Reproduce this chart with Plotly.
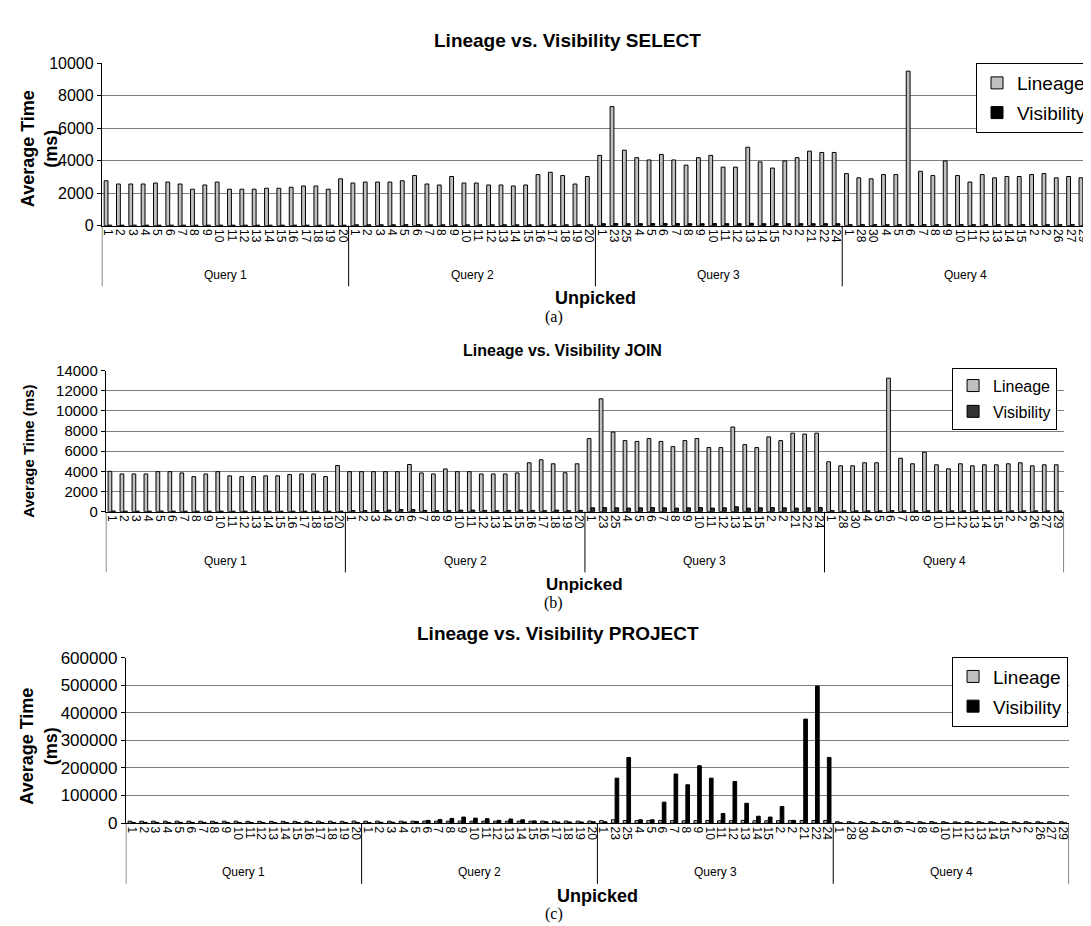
import plotly.graph_objects as go

W, H = 1091, 926
FONT = "Liberation Sans"
SERIF = "Liberation Serif"

query_names = ["Query 1", "Query 2", "Query 3", "Query 4"]
q1_ticks = [str(i) for i in range(1, 21)]
q2_ticks = [str(i) for i in range(1, 21)]
q3_ticks = ["1", "23", "25", "4", "5", "6", "7", "8", "9", "10", "11", "12", "13", "14", "15", "2", "2", "21", "22", "24"]
q4_ticks = ["1", "28", "30", "4", "5", "6", "7", "8", "9", "10", "11", "12", "13", "14", "15", "2", "2", "26", "27", "29"]
tick_labels = q1_ticks + q2_ticks + q3_ticks + q4_ticks

select_lineage = [2760, 2560, 2560, 2560, 2620, 2680, 2560, 2240, 2500, 2680,
                  2240, 2240, 2240, 2300, 2300, 2360, 2440, 2440, 2240, 2880,
                  2620, 2680, 2680, 2680, 2760, 3080, 2560, 2500, 3020, 2620,
                  2620, 2500, 2500, 2440, 2500, 3140, 3280, 3080, 2560, 3020,
                  4320, 7320, 4640, 4180, 4040, 4380, 4040, 3720, 4180, 4320,
                  3600, 3600, 4820, 3920, 3540, 3980, 4180, 4580, 4500, 4500,
                  3200, 2940, 2880, 3140, 3140, 9500, 3340, 3080, 3980, 3080,
                  2680, 3140, 2940, 3020, 3020, 3140, 3200, 2940, 3020, 2940]
select_visibility = [30, 30, 30, 30, 30, 30, 30, 30, 30, 30,
                     30, 30, 30, 30, 30, 30, 30, 30, 30, 30,
                     50, 50, 50, 50, 60, 60, 50, 50, 50, 50,
                     50, 50, 50, 50, 50, 50, 50, 50, 50, 50,
                     120, 130, 120, 120, 130, 130, 130, 120, 120, 130,
                     120, 120, 140, 120, 120, 120, 120, 120, 120, 120,
                     60, 60, 60, 60, 60, 60, 60, 60, 60, 60,
                     60, 60, 60, 60, 60, 60, 60, 60, 60, 60]

join_lineage = [4000, 3740, 3740, 3740, 3970, 3970, 3840, 3480, 3740, 3970,
                3550, 3480, 3480, 3550, 3550, 3680, 3740, 3740, 3480, 4580,
                3970, 3970, 3970, 3970, 3970, 4680, 3840, 3740, 4240, 3970,
                3970, 3740, 3740, 3740, 3840, 4850, 5150, 4750, 3860, 4750,
                7250, 11200, 7900, 7050, 6970, 7250, 6970, 6450, 7050, 7250,
                6360, 6360, 8400, 6650, 6360, 7420, 7050, 7790, 7700, 7790,
                4950, 4550, 4550, 4850, 4850, 13250, 5300, 4750, 5900, 4650,
                4250, 4750, 4550, 4650, 4650, 4750, 4850, 4550, 4650, 4650]
join_visibility = [60, 50, 50, 50, 60, 60, 50, 50, 50, 60,
                   50, 50, 50, 50, 50, 50, 50, 50, 50, 60,
                   100, 100, 100, 150, 200, 200, 120, 100, 100, 150,
                   150, 120, 100, 120, 150, 120, 100, 150, 100, 120,
                   380, 400, 380, 350, 380, 400, 380, 350, 380, 400,
                   350, 380, 480, 350, 380, 400, 380, 350, 380, 400,
                   100, 80, 80, 80, 80, 100, 80, 80, 80, 80,
                   80, 80, 80, 80, 80, 80, 80, 80, 80, 80]

project_lineage = [7000, 7000, 7000, 7000, 7000, 7000, 7000, 7000, 7000, 7000,
                   6500, 6500, 6500, 6500, 6500, 6500, 7000, 7000, 6500, 7500,
                   7000, 7000, 7000, 7000, 7000, 7500, 7000, 7000, 7500, 7000,
                   7000, 7000, 7000, 7000, 7000, 7500, 7500, 7500, 7000, 7500,
                   9000, 12000, 9500, 9000, 9000, 9500, 9000, 8500, 9000, 9500,
                   8500, 8500, 10000, 8500, 8500, 9000, 9000, 9500, 9500, 9500,
                   5000, 5000, 5000, 5000, 5000, 8000, 5000, 5000, 5500, 5000,
                   4500, 5000, 5000, 5000, 5000, 5000, 5000, 5000, 5000, 5000]
project_visibility = [2500, 2500, 2500, 2500, 2500, 2500, 2500, 2500, 2500, 2500,
                      2000, 2000, 2000, 2000, 2000, 2000, 2000, 2000, 2000, 2500,
                      2000, 3000, 3000, 4000, 6000, 10000, 13000, 17000, 22000, 18000,
                      16000, 10000, 15000, 12000, 8000, 5000, 4000, 4000, 4000, 5000,
                      5000, 163000, 238000, 12000, 12000, 76000, 178000, 139000, 208000, 163000,
                      35000, 151000, 72000, 25000, 22000, 60000, 10000, 377000, 497000, 238000,
                      800, 800, 800, 800, 800, 800, 800, 800, 800, 800,
                      800, 800, 800, 800, 800, 800, 800, 800, 800, 800]

idx = list(range(len(tick_labels)))
n = len(tick_labels)
gsize = n // len(query_names)


def X(px):
    return px / W


def Y(py):
    return 1 - py / H


panels = [
    dict(name="a", title="Lineage vs. Visibility SELECT", lin=select_lineage, vis=select_visibility,
         vis_color="#000000", x0=93, x1=1082, top=47, bot=213, ymax=10000, dtick=2000,
         title_x=560, title_y=24, title_size=19, ytick_size=16, ytitle="Average Time<br>(ms)",
         ytitle_size=18, ytitle_x=30, ytitle_y=134, tick_len=27, unp_size=18,
         leg=dict(x=1085, y=47, size=19)),
    dict(name="b", title="Lineage vs. Visibility JOIN", lin=join_lineage, vis=join_visibility,
         vis_color="#333333", x0=97, x1=1057, top=361, bot=505, ymax=14000, dtick=2000,
         title_x=555, title_y=340, title_size=16, ytick_size=15, ytitle="Average Time (ms)",
         ytitle_size=15, ytitle_x=20, ytitle_y=443, tick_len=26, unp_size=17,
         leg=dict(x=1050, y=358, size=16)),
    dict(name="c", title="Lineage vs. Visibility PROJECT", lin=project_lineage, vis=project_visibility,
         vis_color="#000000", x0=117, x1=1062, top=654, bot=823, ymax=600000, dtick=100000,
         title_x=550, title_y=629, title_size=19, ytick_size=17, ytitle="Average Time<br>(ms)",
         ytitle_size=18, ytitle_x=30, ytitle_y=744, tick_len=27, unp_size=18,
         leg=dict(x=1061, y=653, size=19)),
]
# vertical offsets (px below the category axis) of the lower texts
Q_OFF, SEP_OFF, UNP_OFF, LAB_OFF = 50, 62, 74, 93

fig = go.Figure()
annotations = []
shapes = []
layout = {}

for k, p in enumerate(panels):
    s = "" if k == 0 else str(k + 1)
    xa, ya = "x" + s, "y" + s
    legname = "legend" + s
    fig.add_trace(go.Bar(x=idx, y=p["lin"], name="Lineage", xaxis=xa, yaxis=ya, legend=legname,
                         legendgroup="lin" + s,
                         marker=dict(color="#C0C0C0", line=dict(color="#000000", width=1))))
    fig.add_trace(go.Bar(x=idx, y=p["vis"], name="Visibility", xaxis=xa, yaxis=ya, legend=legname,
                         legendgroup="vis" + s,
                         marker=dict(color=p["vis_color"], line=dict(color="#000000", width=1))))
    dom_x = [X(p["x0"]), X(p["x1"])]
    dom_y = [Y(p["bot"]), Y(p["top"])]
    layout["xaxis" + s] = dict(domain=dom_x, anchor=ya, range=[-0.5, n - 0.5], tickmode="array",
                               tickvals=idx, ticktext=tick_labels, tickangle=90, ticks="",
                               ticklabeloverflow="allow",
                               showline=True, linecolor="#000000", linewidth=1, showgrid=False,
                               zeroline=False, tickfont=dict(family=FONT, size=12, color="#000"))
    ov = "xaxis" + str(k + 4)
    layout[ov] = dict(overlaying=xa, anchor=ya, range=[-0.5, n - 0.5], tickmode="array",
                      tickvals=[i - 0.5 for i in range(n + 1)], ticks="outside", ticklen=p["tick_len"],
                      tickcolor="#000000", tickwidth=1, showticklabels=False, showgrid=False,
                      showline=False, zeroline=False)
    layout["yaxis" + s] = dict(domain=dom_y, anchor=xa, range=[0, p["ymax"]], dtick=p["dtick"],
                               tickformat="d", showgrid=True, gridcolor="#7f7f7f", gridwidth=1,
                               ticks="outside", ticklen=4, tickcolor="#000", showline=True,
                               linecolor="#000000", zeroline=False,
                               tickfont=dict(family=FONT, size=p["ytick_size"], color="#000"))
    lg = p["leg"]
    layout[legname] = dict(x=X(lg["x"]), y=Y(lg["y"]), xanchor="right", yanchor="top",
                           bgcolor="#ffffff", bordercolor="#000000", borderwidth=1,
                           font=dict(family=FONT, size=lg["size"], color="#000"),
                           tracegroupgap=2, itemwidth=30)
    cx = X((p["x0"] + p["x1"]) / 2)
    annotations.append(dict(text="<b>%s</b>" % p["title"], x=X(p["title_x"]), y=Y(p["title_y"]),
                            xref="paper", yref="paper", showarrow=False, xanchor="center",
                            yanchor="middle",
                            font=dict(family=FONT, size=p["title_size"], color="#000")))
    annotations.append(dict(text="<b>%s</b>" % p["ytitle"], x=X(p["ytitle_x"]),
                            y=Y(p["ytitle_y"]), xref="paper", yref="paper",
                            showarrow=False, textangle=-90, xanchor="center", yanchor="middle",
                            font=dict(family=FONT, size=p["ytitle_size"], color="#000")))
    for g, qn in enumerate(query_names):
        annotations.append(dict(text=qn, x=g * gsize + (gsize - 1) / 2, y=Y(p["bot"] + Q_OFF), xref=xa,
                                yref="paper", showarrow=False, xanchor="center", yanchor="middle",
                                font=dict(family=FONT, size=12, color="#000")))
    for g in range(len(query_names) + 1):
        shapes.append(dict(type="line", xref=xa, yref="paper", x0=g * gsize - 0.5, x1=g * gsize - 0.5,
                           y0=Y(p["bot"]), y1=Y(p["bot"] + SEP_OFF), line=dict(color="#000000", width=1)))
    annotations.append(dict(text="<b>Unpicked</b>", x=cx, y=Y(p["bot"] + UNP_OFF), xref="paper",
                            yref="paper", showarrow=False, xanchor="center", yanchor="middle",
                            font=dict(family=FONT, size=p["unp_size"], color="#000")))
    annotations.append(dict(text="(%s)" % p["name"], x=X(546), y=Y(min(p["bot"] + LAB_OFF, 916)),
                            xref="paper", yref="paper", showarrow=False, xanchor="center",
                            yanchor="middle", font=dict(family=SERIF, size=16, color="#000")))

fig.update_layout(**layout)
fig.update_layout(width=W, height=H, autosize=False, margin=dict(l=0, r=0, t=0, b=0),
                  paper_bgcolor="#ffffff", plot_bgcolor="#ffffff", barmode="group",
                  bargap=0.38, bargroupgap=0, annotations=annotations, shapes=shapes,
                  showlegend=True, font=dict(family=FONT, color="#000"))

fig.write_html("out.html")
